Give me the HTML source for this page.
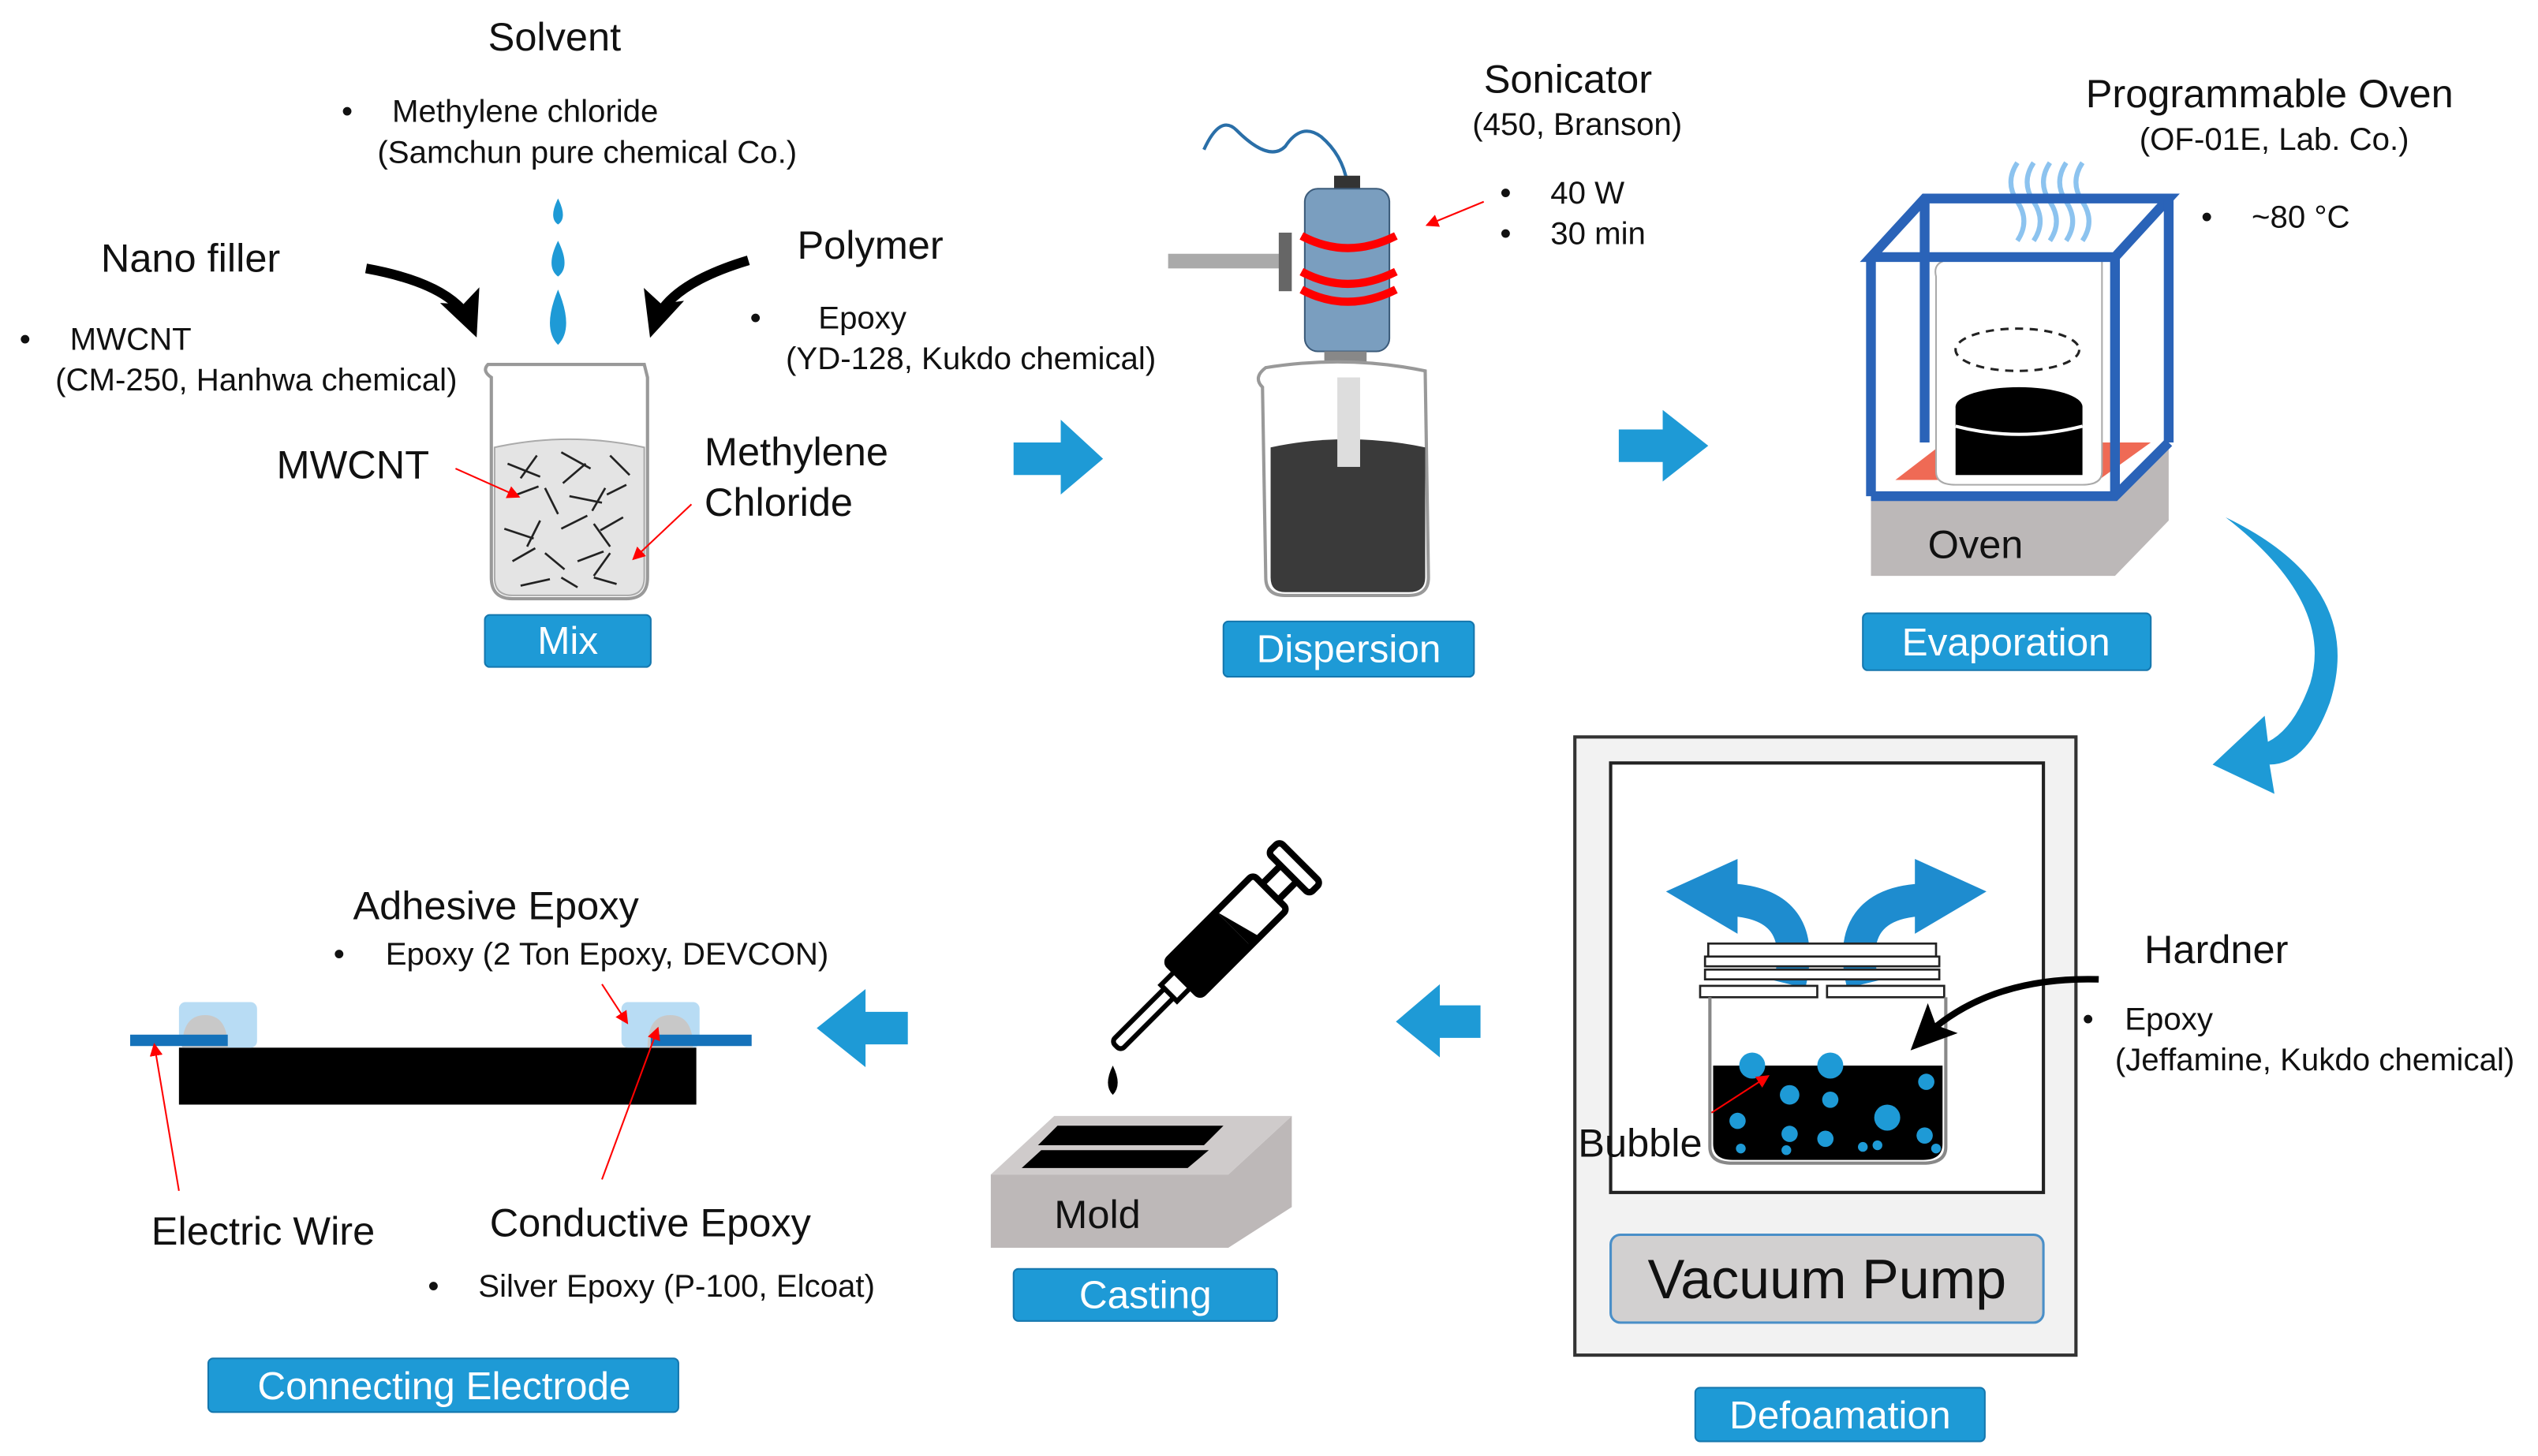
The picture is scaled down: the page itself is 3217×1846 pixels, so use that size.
<!DOCTYPE html>
<html><head><meta charset="utf-8"><style>
html,body{margin:0;padding:0;background:#fff}
svg{display:block}
text{font-family:"Liberation Sans",sans-serif;fill:#111}
.s{font-size:19.5px}.b{font-size:24.5px}.w{font-size:24px;fill:#fff}
</style></head><body>
<svg width="3217" height="1846" viewBox="0 0 1560 895" preserveAspectRatio="none" xmlns="http://www.w3.org/2000/svg">
<defs>
<marker id="ra" markerWidth="8" markerHeight="8" refX="6" refY="4" orient="auto" markerUnits="userSpaceOnUse"><path d="M0,0 L8,4 L0,8z" fill="#f00"/></marker>
<marker id="ka" markerWidth="30" markerHeight="30" refX="20" refY="15" orient="auto" markerUnits="userSpaceOnUse"><path d="M0,2 L28,15 L0,28 L6,15z" fill="#000"/></marker>
</defs>

<!-- ============ MIX ============ -->
<text x="300" y="31" class="b">Solvent</text>
<text x="210" y="75" class="s">•</text><text x="241" y="75" class="s">Methylene chloride</text>
<text x="232" y="100" class="s">(Samchun pure chemical Co.)</text>
<path d="M343,122 q-6,12 0,16 q6,-4 0,-16z M343,148 q-8,16 0,22 q8,-6 0,-22z M343,178 q-10,24 0,34 q10,-10 0,-34z" fill="#1e9ad6"/>
<text x="62" y="167" class="b">Nano filler</text>
<text x="12" y="215" class="s">•</text><text x="43" y="215" class="s">MWCNT</text>
<text x="34" y="240" class="s">(CM-250, Hanhwa chemical)</text>
<text x="490" y="159" class="b">Polymer</text>
<text x="461" y="202" class="s">•</text><text x="503" y="202" class="s">Epoxy</text>
<text x="483" y="227" class="s">(YD-128, Kukdo chemical)</text>
<path d="M225,165 Q280,175 290,200" stroke="#000" stroke-width="6" fill="none" marker-end="url(#ka)"/>
<path d="M460,160 Q410,175 402,200" stroke="#000" stroke-width="6" fill="none" marker-end="url(#ka)"/>
<path d="M302,232 Q296,228 300,224 L396,224 L398,232 L398,355 Q398,368 385,368 L315,368 Q302,368 302,355z" fill="#fff" stroke="#999" stroke-width="2"/>
<path d="M304,275 Q350,265 396,275 L396,355 Q396,366 385,366 L315,366 Q304,366 304,355z" fill="#e4e4e4" stroke="#aaa"/>
<g stroke="#222" stroke-width="1.3">
<path d="M312,285 l20,8 M330,280 l-10,14 M345,278 l18,10 M360,285 l-14,12 M375,280 l12,12 M315,305 l16,-6 M335,300 l8,16 M350,305 l20,4 M372,300 l-8,14 M385,298 l-12,6 M310,325 l18,6 M332,320 l-8,16 M345,325 l16,-8 M365,322 l10,14 M383,318 l-14,8 M315,345 l14,-8 M335,340 l12,10 M355,345 l16,-6 M375,340 l-10,14 M320,360 l18,-4 M345,355 l10,6 M365,355 l14,4"/>
</g>
<text x="170" y="294" class="b">MWCNT</text>
<line x1="280" y1="288" x2="318" y2="305" stroke="#f00" marker-end="url(#ra)"/>
<text x="433" y="286" class="b">Methylene</text>
<text x="433" y="317" class="b">Chloride</text>
<line x1="425" y1="310" x2="390" y2="343" stroke="#f00" marker-end="url(#ra)"/>
<rect x="298" y="378" width="102" height="32" rx="3" fill="#1e9ad6" stroke="#1577ae"/>
<text x="349" y="402" class="w" text-anchor="middle">Mix</text>

<!-- arrow 1 -->
<path d="M623,272 L652,272 L652,258 L678,282 L652,304 L652,292 L623,292z" fill="#1e9ad6"/>

<!-- ============ DISPERSION ============ -->
<text x="912" y="57" class="b">Sonicator</text>
<text x="905" y="83" class="s">(450, Branson)</text>
<text x="922" y="125" class="s">•</text><text x="953" y="125" class="s">40 W</text>
<text x="922" y="150" class="s">•</text><text x="953" y="150" class="s">30 min</text>
<line x1="912" y1="124" x2="878" y2="138" stroke="#f00" marker-end="url(#ra)"/>
<path d="M740,92 Q750,70 760,80 Q780,100 790,90 Q800,75 812,84 Q825,95 828,112" stroke="#2a6fa8" stroke-width="2" fill="none"/>
<rect x="820" y="108" width="16" height="14" fill="#333"/>
<rect x="718" y="156" width="70" height="9" fill="#aaa"/>
<rect x="786" y="143" width="8" height="36" fill="#666"/>
<rect x="802" y="116" width="52" height="100" rx="8" fill="#7a9ebf" stroke="#3c5b7a"/>
<path d="M800,145 Q828,160 858,145 M800,167 Q828,182 858,167 M800,178 Q828,193 858,178" stroke="#f00" stroke-width="5" fill="none"/>
<rect x="814" y="216" width="26" height="16" fill="#888"/>
<path d="M776,238 Q770,232 778,226 Q828,218 876,228 L878,355 Q878,366 866,366 L790,366 Q778,366 778,355z" fill="#fff" stroke="#999" stroke-width="2"/>
<path d="M781,275 Q828,265 876,275 L876,355 Q876,364 866,364 L790,364 Q781,364 781,355z" fill="#3a3a3a"/>
<rect x="822" y="232" width="14" height="55" fill="#ddd"/>
<rect x="752" y="382" width="154" height="34" rx="3" fill="#1e9ad6" stroke="#1577ae"/>
<text x="829" y="407" class="w" text-anchor="middle">Dispersion</text>

<!-- arrow 2 -->
<path d="M995,264 L1022,264 L1022,252 L1050,274 L1022,296 L1022,284 L995,284z" fill="#1e9ad6"/>

<!-- ============ EVAPORATION ============ -->
<text x="1282" y="66" class="b">Programmable Oven</text>
<text x="1315" y="92" class="s">(OF-01E, Lab. Co.)</text>
<text x="1353" y="140" class="s">•</text><text x="1384" y="140" class="s">~80 °C</text>
<g stroke="#8cc3ef" stroke-width="3" fill="none">
<path d="M1240,100 q-8,12 0,24 q8,12 0,24"/><path d="M1250,100 q-8,12 0,24 q8,12 0,24"/><path d="M1260,100 q-8,12 0,24 q8,12 0,24"/><path d="M1270,100 q-8,12 0,24 q8,12 0,24"/><path d="M1280,100 q-8,12 0,24 q8,12 0,24"/>
</g>
<path d="M1150,305 L1300,305 L1333,272 L1333,320 L1300,354 L1150,354z" fill="#bcb8b8"/>
<path d="M1165,295 L1290,295 L1322,272 L1195,272z" fill="#ef6a55"/>
<path d="M1190,170 Q1188,162 1196,160 L1292,160 L1292,290 Q1292,298 1280,298 L1202,298 Q1190,298 1190,290z" fill="#fff" stroke="#aaa"/>
<ellipse cx="1240" cy="215" rx="38" ry="13" fill="none" stroke="#222" stroke-dasharray="5,4" stroke-width="1.5"/>
<rect x="1202" y="250" width="78" height="42" fill="#000"/>
<ellipse cx="1241" cy="250" rx="39" ry="12" fill="#000"/>
<path d="M1202,262 Q1241,272 1280,262" stroke="#fff" stroke-width="2" fill="none"/>
<g stroke="#2a63b8" stroke-width="6" fill="none">
<path d="M1150,158 L1300,158 L1333,122 L1183,122z"/>
<line x1="1150" y1="158" x2="1150" y2="305"/><line x1="1300" y1="158" x2="1300" y2="305"/><line x1="1333" y1="122" x2="1333" y2="272"/><line x1="1183" y1="122" x2="1183" y2="272"/>
<path d="M1150,305 L1300,305 L1333,272"/>
</g>
<text x="1185" y="343" class="b">Oven</text>
<rect x="1145" y="377" width="177" height="35" rx="3" fill="#1e9ad6" stroke="#1577ae"/>
<text x="1233" y="403" class="w" text-anchor="middle">Evaporation</text>

<!-- curved arrow -->
<path d="M1368,318 Q1455,360 1432,432 Q1418,470 1395,470 L1398,488 L1360,470 L1392,440 L1394,456 Q1410,448 1420,420 Q1435,370 1368,318z" fill="#1e9ad6"/>

<!-- ============ DEFOAMATION ============ -->
<rect x="968" y="453" width="308" height="380" fill="#f2f2f2" stroke="#333" stroke-width="2"/>
<rect x="990" y="469" width="266" height="264" fill="#fff" stroke="#222" stroke-width="2"/>
<path d="M1100,605 Q1112,555 1062,553" stroke="#1e8ccf" stroke-width="20" fill="none"/>
<path d="M1068,528 L1024,548 L1068,574z" fill="#1e8ccf"/>
<path d="M1145,605 Q1133,555 1183,553" stroke="#1e8ccf" stroke-width="20" fill="none"/>
<path d="M1177,528 L1221,548 L1177,574z" fill="#1e8ccf"/>
<g fill="#fff" stroke="#222" stroke-width="1.3">
<rect x="1050" y="580" width="140" height="8"/><rect x="1048" y="588" width="144" height="6"/><rect x="1048" y="596" width="144" height="6"/>
<rect x="1045" y="606" width="72" height="7"/><rect x="1123" y="606" width="72" height="7"/>
</g>
<path d="M1051,613 L1051,705 Q1051,715 1065,715 L1182,715 Q1196,715 1196,705 L1196,613" fill="none" stroke="#888" stroke-width="2"/>
<path d="M1053,655 L1194,655 L1194,703 Q1194,713 1182,713 L1065,713 Q1053,713 1053,703z" fill="#000"/>
<g fill="#1e9ad6">
<circle cx="1077" cy="655" r="8"/><circle cx="1125" cy="655" r="8"/>
<circle cx="1100" cy="673" r="6"/><circle cx="1125" cy="676" r="5"/><circle cx="1160" cy="687" r="8"/><circle cx="1184" cy="665" r="5"/>
<circle cx="1068" cy="689" r="5"/><circle cx="1100" cy="697" r="5"/><circle cx="1122" cy="700" r="5"/><circle cx="1183" cy="698" r="5"/>
<circle cx="1154" cy="704" r="3"/><circle cx="1098" cy="707" r="3"/><circle cx="1070" cy="706" r="3"/><circle cx="1145" cy="705" r="3"/><circle cx="1190" cy="706" r="3"/>
</g>
<text x="970" y="711" class="b">Bubble</text>
<line x1="1052" y1="684" x2="1086" y2="662" stroke="#f00" marker-end="url(#ra)"/>
<text x="1318" y="592" class="b">Hardner</text>
<text x="1280" y="633" class="s">•</text><text x="1306" y="633" class="s">Epoxy</text>
<text x="1300" y="658" class="s">(Jeffamine, Kukdo chemical)</text>
<path d="M1290,602 Q1220,600 1180,640" stroke="#000" stroke-width="4" fill="none" marker-end="url(#ka)"/>
<rect x="990" y="759" width="266" height="54" rx="6" fill="#d2d0d0" stroke="#4a8fc8" stroke-width="1.5"/>
<text x="1123" y="798" text-anchor="middle" style="font-size:34px">Vacuum Pump</text>
<rect x="1042" y="853" width="178" height="33" rx="3" fill="#1e9ad6" stroke="#1577ae"/>
<text x="1131" y="878" class="w" text-anchor="middle">Defoamation</text>

<!-- arrow left 1 -->
<path d="M910,618 L885,618 L885,605 L858,628 L885,650 L885,638 L910,638z" fill="#1e9ad6"/>

<!-- ============ CASTING ============ -->
<g transform="translate(686,643) rotate(-45)">
<rect x="0" y="-4" width="48" height="8" rx="3" fill="#fff" stroke="#000" stroke-width="3"/>
<rect x="46" y="-7" width="14" height="14" fill="#fff" stroke="#000" stroke-width="3"/>
<rect x="58" y="-15" width="76" height="30" rx="3" fill="#fff" stroke="#000" stroke-width="4"/>
<rect x="58" y="-15" width="44" height="30" fill="#000"/>
<path d="M102,-15 L102,15 L110,15z" fill="#000"/>
<rect x="134" y="-7" width="16" height="14" fill="#fff" stroke="#000" stroke-width="4"/>
<rect x="150" y="-18" width="10" height="36" rx="3" fill="#fff" stroke="#000" stroke-width="4"/>
</g>
<path d="M684,655 q-6,12 0,18 q6,-6 0,-18z" fill="#000"/>
<path d="M609,722 L755,722 L794,686 L794,742 L755,767 L609,767z" fill="#bdb8b8"/>
<path d="M609,722 L755,722 L794,686 L648,686z" fill="#cfcbcb"/>
<path d="M638,704 L740,704 L752,692 L650,692z M628,718 L730,718 L743,707 L640,707z" fill="#000"/>
<text x="648" y="755" class="b">Mold</text>
<rect x="623" y="780" width="162" height="32" rx="3" fill="#1e9ad6" stroke="#1577ae"/>
<text x="704" y="804" class="w" text-anchor="middle">Casting</text>

<!-- arrow left 2 -->
<path d="M558,622 L532,622 L532,608 L502,632 L532,656 L532,642 L558,642z" fill="#1e9ad6"/>

<!-- ============ CONNECTING ELECTRODE ============ -->
<text x="217" y="565" class="b">Adhesive Epoxy</text>
<text x="205" y="593" class="s">•</text><text x="237" y="593" class="s">Epoxy (2 Ton Epoxy, DEVCON)</text>
<rect x="110" y="644" width="318" height="35" fill="#000"/>
<rect x="110" y="616" width="48" height="28" rx="4" fill="#b8dcf4"/>
<rect x="382" y="616" width="48" height="28" rx="4" fill="#b8dcf4"/>
<path d="M112,644 Q112,624 126,624 Q140,624 140,644z" fill="#c8c8c8"/>
<path d="M398,644 Q398,624 412,624 Q426,624 426,644z" fill="#c8c8c8"/>
<rect x="80" y="636" width="60" height="7" fill="#1572ba"/>
<rect x="400" y="636" width="62" height="7" fill="#1572ba"/>
<line x1="110" y1="732" x2="95" y2="643" stroke="#f00" marker-end="url(#ra)"/>
<line x1="370" y1="605" x2="385" y2="628" stroke="#f00" marker-end="url(#ra)"/>
<line x1="370" y1="725" x2="404" y2="633" stroke="#f00" marker-end="url(#ra)"/>
<text x="93" y="765" class="b">Electric Wire</text>
<text x="301" y="760" class="b">Conductive Epoxy</text>
<text x="263" y="797" class="s">•</text><text x="294" y="797" class="s">Silver Epoxy (P-100, Elcoat)</text>
<rect x="128" y="835" width="289" height="33" rx="3" fill="#1e9ad6" stroke="#1577ae"/>
<text x="273" y="860" class="w" text-anchor="middle">Connecting Electrode</text>
</svg>
</body></html>
